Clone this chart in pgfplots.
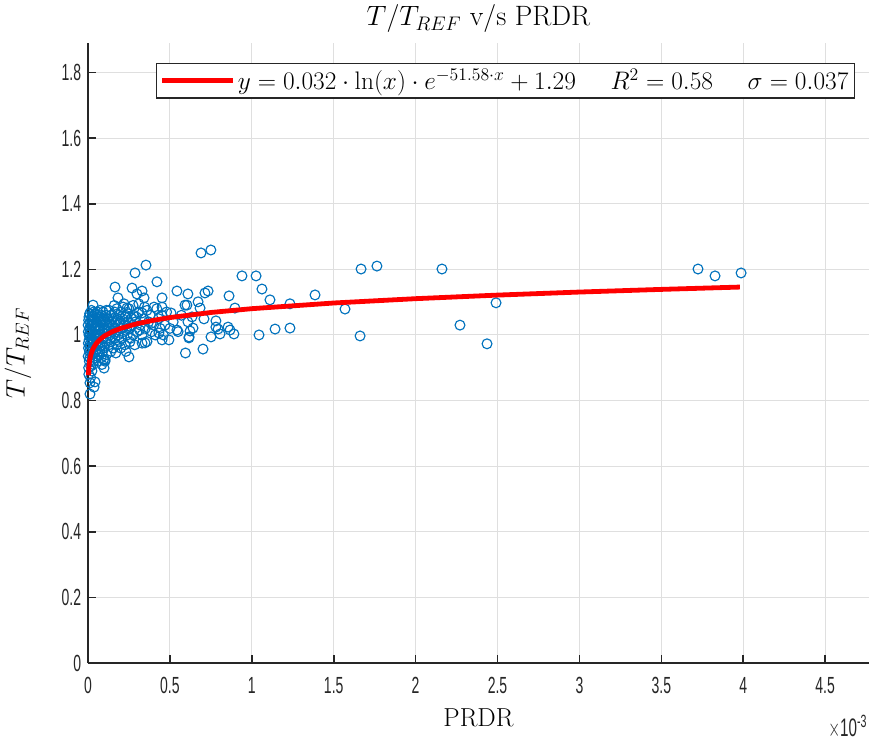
\RequirePackage{fix-cm}
\documentclass[border=0pt]{standalone}
\usepackage{fontspec}
\usepackage{pgfplots}
\pgfplotsset{compat=1.18}
\newfontfamily\ticksfont{Liberation Sans}
\definecolor{mblue}{RGB}{0,114,189}
\definecolor{axgray}{RGB}{38,38,38}
\definecolor{gridgray}{RGB}{223,223,223}
\begin{document}
\begin{tikzpicture}
\begin{axis}[
  scale only axis, width=585.75pt, height=465pt,
  xmin=0, xmax=4.768, ymin=0, ymax=1.89,
  clip=false, clip marker paths=true,
  xtick={0,0.5,1,1.5,2,2.5,3,3.5,4,4.5},
  ytick={0,0.2,0.4,0.6,0.8,1,1.2,1.4,1.6,1.8},
  axis x line*=bottom, axis y line*=left,
  axis line style={-, draw=axgray, line width=1.2pt},
  tick align=inside, major tick length=6pt,
  tick style={draw=axgray, line width=1.2pt},
  grid=major, major grid style={draw=gridgray, line width=0.8pt},
  /pgf/number format/assume math mode=true,
  ticklabel style={font=\ticksfont\fontsize{17.5}{18}\selectfont, text=axgray, xscale=0.6},
  xticklabel style={yshift=-7pt},
  yticklabel style={xshift=-5pt},
  title={$T/T_{REF}$ v/s PRDR},
  title style={font=\fontsize{21}{23}\selectfont, at={(axis description cs:0.5,1.026)}, anchor=center},
  xlabel={PRDR},
  xlabel style={font=\fontsize{19.5}{21}\selectfont, at={(axis description cs:0.5,-0.0887)}, anchor=center},
  ylabel={$T/T_{REF}$},
  ylabel style={font=\fontsize{20}{21}\selectfont, at={(axis description cs:-0.0896,0.5)}, anchor=center, rotate=0},
  legend style={at={(0.982,0.968)}, anchor=north east, draw=axgray, line width=0.8pt,
    font=\fontsize{19}{21}\selectfont, inner sep=2.5pt},
  legend image code/.code={\draw[#1, line width=3.6pt] (0pt,0pt) -- (53pt,0pt);},
]
\addplot[only marks, mark=o, mark size=3.7pt, mark options={draw=mblue, line width=0.85pt}, forget plot] table {
x y
0.69 1.250
0.75 1.259
0.354 1.213
0.287 1.189
0.421 1.162
0.165 1.146
0.269 1.143
0.330 1.134
0.299 1.125
0.342 1.113
0.183 1.113
0.452 1.113
0.543 1.134
0.940 1.180
1.026 1.180
1.062 1.140
1.111 1.107
1.233 1.095
1.044 1.000
1.142 1.018
1.233 1.021
0.897 1.082
0.861 1.119
0.733 1.134
0.714 1.128
0.610 1.125
0.672 1.101
0.604 1.091
0.684 1.082
0.635 1.055
0.708 1.049
0.781 1.043
0.610 1.040
0.641 1.021
0.781 1.024
0.794 1.018
0.855 1.024
0.867 1.015
0.891 1.003
0.806 1.003
0.751 0.994
0.617 0.994
0.623 1.012
0.702 0.957
0.595 0.945
1.386 1.122
1.667 1.201
1.764 1.210
1.569 1.079
1.661 0.997
2.161 1.201
2.491 1.098
2.271 1.030
2.436 0.973
3.724 1.201
3.828 1.180
3.987 1.189
0.031 1.091
0.220 1.095
0.238 1.082
0.403 1.085
0.452 1.085
0.507 1.067
0.592 1.091
0.330 1.067
0.024 1.055
0.250 0.933
0.348 0.976
0.256 0.979
0.098 0.899
0.104 0.924
0.037 0.841
0.043 0.857
0.012 0.820
0.012 0.854
0.452 0.985
0.494 0.985
0.433 1.006
0.543 1.015
0.616 0.991
0.005 0.88
0.008 0.92
0.010 0.95
0.012 0.97
0.006 1.00
0.009 1.02
0.015 1.04
0.004 0.90
0.011 0.93
0.014 0.96
0.018 0.99
0.020 1.01
0.022 0.94
0.025 0.98
0.028 1.03
0.030 0.96
0.033 1.00
0.035 0.92
0.038 1.05
0.040 0.98
0.042 1.02
0.045 0.95
0.048 1.00
0.050 1.04
0.016 0.87
0.024 0.89
0.032 0.91
0.044 0.93
0.007 0.985
0.013 1.015
0.019 1.03
0.027 1.06
0.036 1.035
0.046 1.065
0.003 0.96
0.002 1.01
0.017 0.905
0.029 0.945
0.039 0.965
0.049 0.975
0.004 1.045
0.010 1.065
0.021 1.075
0.001 0.935
0.002 0.975
0.001 1.03
0.006 1.055
0.014 1.005
0.023 1.045
0.034 1.07
0.041 1.005
0.052 1.06
0.026 0.925
0.053 0.955
0.055 1.00
0.058 1.03
0.060 0.97
0.063 1.05
0.066 0.99
0.070 1.02
0.072 0.95
0.075 1.04
0.078 1.00
0.080 0.93
0.083 1.06
0.086 1.01
0.088 0.97
0.090 1.03
0.093 0.99
0.096 1.05
0.098 0.96
0.100 1.02
0.103 1.04
0.105 0.98
0.108 1.01
0.110 1.06
0.113 0.94
0.115 1.03
0.118 0.99
0.120 1.05
0.062 0.92
0.068 0.94
0.085 0.91
0.095 0.925
0.104 0.92
0.057 1.07
0.074 1.075
0.092 1.07
0.112 1.075
0.065 1.015
0.077 0.965
0.082 1.045
0.099 1.005
0.107 1.045
0.116 1.015
0.071 1.055
0.089 0.95
0.125 1.02
0.128 0.97
0.132 1.04
0.135 1.00
0.138 1.06
0.142 0.98
0.145 1.03
0.148 1.01
0.152 1.05
0.155 0.96
0.158 1.02
0.162 1.07
0.165 0.99
0.168 1.04
0.172 1.01
0.175 0.97
0.178 1.05
0.182 1.03
0.185 1.00
0.188 1.06
0.192 0.98
0.195 1.04
0.198 1.02
0.202 1.07
0.205 0.99
0.210 1.05
0.215 1.01
0.220 1.03
0.225 0.97
0.230 1.06
0.235 1.02
0.240 1.00
0.245 1.04
0.250 1.08
0.140 0.95
0.170 0.945
0.200 0.96
0.232 0.95
0.160 1.09
0.215 1.085
0.130 1.075
0.150 1.025
0.176 1.08
0.190 1.035
0.208 1.02
0.226 1.055
0.242 1.065
0.136 0.99
0.255 1.02
0.260 0.99
0.265 1.05
0.270 1.03
0.275 1.00
0.280 1.06
0.285 0.97
0.290 1.04
0.300 1.01
0.310 1.07
0.320 1.03
0.330 1.00
0.340 1.05
0.350 1.02
0.360 0.98
0.370 1.04
0.380 1.06
0.390 1.01
0.400 1.03
0.410 1.00
0.420 1.08
0.430 1.05
0.440 1.02
0.450 1.06
0.460 1.00
0.470 1.03
0.480 1.07
0.500 1.02
0.520 1.04
0.550 1.01
0.570 1.06
0.275 1.09
0.310 1.095
0.360 1.075
0.330 0.975
0.295 1.055
0.315 1.015
0.345 1.085
0.385 1.035
};
\addplot[red, line width=3.6pt] coordinates {
(0.0025,0.8772) (0.0035,0.888) (0.005,0.8994) (0.007,0.9103) (0.01,0.9218)
(0.015,0.9348) (0.02,0.9441) (0.03,0.9573) (0.05,0.9739) (0.075,0.9872)
(0.1,0.9968) (0.15,1.0104) (0.2,1.0202) (0.3,1.0344) (0.4,1.0447)
(0.5,1.0530) (0.75,1.0685) (1,1.0801) (1.5,1.0974) (2,1.1106)
(2.5,1.1215) (3,1.1308) (3.5,1.1389) (3.98,1.1460)
};
\addlegendentry{$y = 0.032\cdot\ln(x)\cdot e^{-51.58\cdot x}+1.29\hspace{26pt}R^2 = 0.58\hspace{26pt}\sigma = 0.037$}
\end{axis}
\node[anchor=base east, font=\ticksfont\fontsize{19}{19}\selectfont, text=axgray, xscale=0.6] at (586.3pt,-55pt) {$\times$10\textsuperscript{-3}};
\pgfresetboundingbox
\useasboundingbox (-66pt,-57.75pt) rectangle (586.5pt,497.25pt);
\end{tikzpicture}
\end{document}
